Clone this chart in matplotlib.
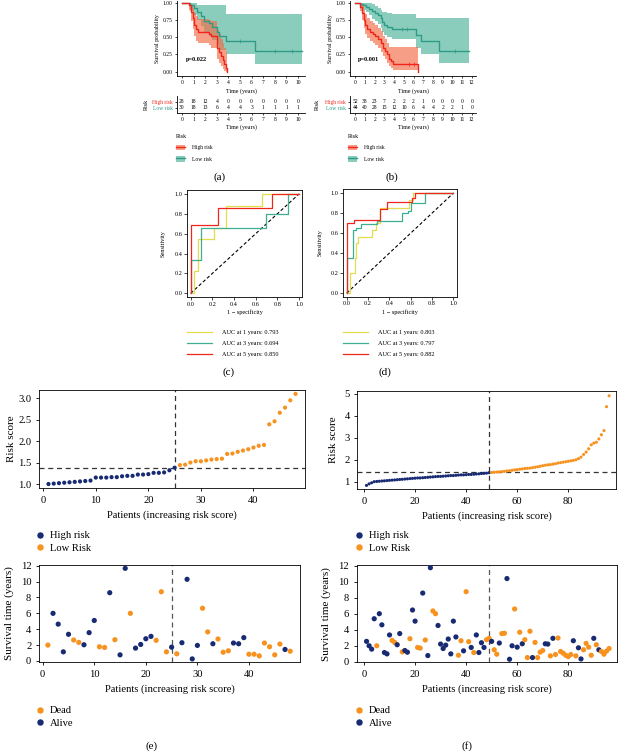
import numpy as np
import matplotlib
matplotlib.use("Agg")
import matplotlib.pyplot as plt
from matplotlib.patches import Patch
from matplotlib.lines import Line2D

# ---- KM data, panel (a)
a_hi_t = [0, 0.6, 0.8, 0.95, 1.05, 1.2, 1.35, 2.3, 2.5, 3.0, 3.2, 3.4, 3.55, 3.65, 3.75, 3.85]
a_hi_s = [1.0, 0.96, 0.86, 0.78, 0.68, 0.62, 0.58, 0.55, 0.52, 0.35, 0.29, 0.23, 0.17, 0.11, 0.06, 0.0]
a_hi_up = [1.0, 1.0, 0.97, 0.92, 0.85, 0.80, 0.77, 0.75, 0.73, 0.60, 0.55, 0.48, 0.42, 0.35, 0.28, 0.0]
a_hi_lo = [1.0, 0.89, 0.73, 0.62, 0.52, 0.45, 0.41, 0.38, 0.35, 0.18, 0.13, 0.08, 0.04, 0.01, 0.0, 0.0]
a_lo_t = [0, 0.7, 1.0, 1.3, 1.6, 1.9, 2.3, 2.6, 3.0, 3.2, 3.8, 6.3, 10.3]
a_lo_s = [1.0, 0.96, 0.92, 0.87, 0.80, 0.74, 0.70, 0.65, 0.58, 0.52, 0.45, 0.30, 0.30]
a_lo_up = [1.0, 1.0, 1.0, 0.97, 0.97, 0.97, 0.97, 0.97, 0.97, 0.97, 0.83, 0.83, 0.83]
a_lo_lo = [1.0, 0.88, 0.82, 0.75, 0.66, 0.58, 0.52, 0.46, 0.38, 0.32, 0.25, 0.11, 0.11]
a_cens_t = [5.0, 8.0, 9.5]
a_cens_s = [0.45, 0.30, 0.30]
a_n_high = [28, 18, 12, 4, 0, 0, 0, 0, 0, 0, 0]
a_n_low = [30, 18, 13, 6, 4, 4, 3, 1, 1, 1, 1]

# ---- KM data, panel (b)
b_hi_t = [0, 0.5, 0.7, 0.9, 1.0, 1.2, 1.5, 1.8, 2.0, 2.3, 2.6, 2.9, 3.1, 3.3, 3.5, 3.7, 3.9, 6.5]
b_hi_s = [1.0, 0.94, 0.85, 0.75, 0.68, 0.62, 0.58, 0.55, 0.52, 0.48, 0.42, 0.35, 0.30, 0.25, 0.19, 0.15, 0.11, 0.0]
b_hi_up = [1.0, 1.0, 0.97, 0.90, 0.83, 0.78, 0.74, 0.71, 0.68, 0.64, 0.59, 0.52, 0.47, 0.42, 0.36, 0.36, 0.36, 0.0]
b_hi_lo = [1.0, 0.88, 0.75, 0.63, 0.55, 0.49, 0.45, 0.42, 0.39, 0.35, 0.29, 0.23, 0.18, 0.13, 0.09, 0.06, 0.03, 0.0]
b_lo_t = [0, 0.5, 0.8, 1.1, 1.4, 1.7, 2.0, 2.3, 2.6, 2.8, 3.0, 3.3, 3.8, 6.3, 6.8, 8.6, 11.7]
b_lo_s = [1.0, 0.98, 0.96, 0.94, 0.91, 0.88, 0.85, 0.82, 0.78, 0.72, 0.68, 0.65, 0.62, 0.53, 0.45, 0.30, 0.30]
b_lo_up = [1.0, 1.0, 1.0, 1.0, 1.0, 0.98, 0.95, 0.93, 0.90, 0.87, 0.86, 0.85, 0.84, 0.78, 0.78, 0.78, 0.78]
b_lo_lo = [1.0, 0.94, 0.90, 0.86, 0.82, 0.77, 0.73, 0.69, 0.64, 0.57, 0.53, 0.50, 0.48, 0.35, 0.26, 0.12, 0.12]
b_cens_lo_t = [4.8, 5.3, 10.3]
b_cens_lo_s = [0.62, 0.62, 0.30]
b_cens_hi_t = [5.5, 6.0]
b_cens_hi_s = [0.11, 0.11]
b_n_high = [52, 38, 23, 7, 2, 2, 2, 1, 0, 0, 0, 0, 0]
b_n_low = [44, 40, 28, 15, 12, 10, 6, 4, 4, 2, 2, 1, 0]

# ---- ROC curves
c_y1_x = [0, 0.03, 0.03, 0.07, 0.07, 0.22, 0.22, 0.33, 0.33, 0.66, 0.66, 1.0]
c_y1_y = [0, 0, 0.22, 0.22, 0.55, 0.55, 0.66, 0.66, 0.88, 0.88, 1.0, 1.0]
c_y3_x = [0, 0, 0.10, 0.10, 0.70, 0.70, 0.90, 0.90, 1.0]
c_y3_y = [0, 0.34, 0.34, 0.66, 0.66, 0.80, 0.80, 1.0, 1.0]
c_y5_x = [0, 0, 0.25, 0.25, 0.75, 0.75, 1.0]
c_y5_y = [0, 0.69, 0.69, 0.86, 0.86, 1.0, 1.0]
c_auc = ["0.793", "0.694", "0.850"]

d_y1_x = [0, 0.03, 0.03, 0.08, 0.08, 0.09, 0.09, 0.11, 0.11, 0.24, 0.24, 0.27, 0.27, 0.31, 0.31, 0.58, 0.58, 0.62, 0.62, 1.0]
d_y1_y = [0, 0, 0.20, 0.20, 0.35, 0.35, 0.50, 0.50, 0.56, 0.56, 0.63, 0.63, 0.70, 0.70, 0.85, 0.85, 0.93, 0.93, 1.0, 1.0]
d_y3_x = [0, 0, 0.06, 0.06, 0.09, 0.09, 0.13, 0.13, 0.28, 0.28, 0.52, 0.52, 0.57, 0.57, 0.60, 0.60, 0.73, 0.73, 1.0]
d_y3_y = [0, 0.35, 0.35, 0.63, 0.63, 0.65, 0.65, 0.69, 0.69, 0.72, 0.72, 0.80, 0.80, 0.82, 0.82, 0.90, 0.90, 1.0, 1.0]
d_y5_x = [0, 0, 0.07, 0.07, 0.31, 0.31, 0.38, 0.38, 0.61, 0.61, 0.64, 0.64, 1.0]
d_y5_y = [0, 0.70, 0.70, 0.73, 0.73, 0.84, 0.84, 0.91, 0.91, 0.95, 0.95, 1.0, 1.0]
d_auc = ["0.803", "0.797", "0.882"]

# ---- risk score / survival, panel (e)
e_risk = [1.00, 1.01, 1.02, 1.03, 1.04, 1.05, 1.06, 1.07, 1.08, 1.15, 1.15, 1.15, 1.16, 1.16, 1.18,
          1.19, 1.19, 1.22, 1.22, 1.23, 1.26, 1.26, 1.27, 1.32, 1.38,
          1.44, 1.45, 1.50, 1.53, 1.53, 1.55, 1.57, 1.58, 1.59, 1.70, 1.71, 1.75, 1.78, 1.81, 1.85,
          1.89, 1.91, 2.39, 2.46, 2.66, 2.78, 2.95, 3.10]
e_n_high = 25
e_cut = 1.37
e_time = [2.0, 6.0, 4.64, 1.15, 3.36, 2.64, 2.34, 2.04, 3.57, 5.1, 1.79, 1.70, 8.6, 2.68, 0.77,
          11.67, 6.0, 1.62, 2.08, 2.8, 3.1, 2.6, 8.72, 1.15, 1.74, 0.9, 2.3, 10.29, 0.26, 1.96,
          6.64, 3.66, 2.17, 2.77, 1.1, 1.28, 2.26, 2.17, 2.94, 0.85, 0.85, 0.64, 2.26, 1.79, 0.77,
          2.13, 1.45, 1.23]
e_dead = [1, 0, 0, 0, 0, 1, 1, 0, 0, 0, 1, 1, 0, 1, 0, 0, 1, 0, 0, 0, 0, 1, 1, 1, 0, 1, 0, 0, 0, 0,
          1, 1, 0, 1, 1, 1, 0, 0, 0, 1, 1, 1, 1, 1, 1, 1, 0, 1]

# ---- risk score / survival, panel (f)
f_risk = [0.83, 0.90, 0.95, 1.00, 1.01, 1.02, 1.03, 1.04, 1.05, 1.06, 1.07, 1.08, 1.09, 1.10, 1.11,
          1.12, 1.13, 1.14, 1.15, 1.16, 1.17, 1.17, 1.18, 1.19, 1.20, 1.21, 1.22, 1.23, 1.24, 1.24,
          1.25, 1.26, 1.27, 1.28, 1.28, 1.29, 1.30, 1.31, 1.31, 1.32, 1.33, 1.33, 1.34, 1.35, 1.36,
          1.37, 1.38, 1.39, 1.41,
          1.42, 1.43, 1.44, 1.45, 1.46, 1.47, 1.49, 1.50, 1.52, 1.54, 1.55, 1.57, 1.58, 1.60, 1.61,
          1.62, 1.64, 1.66, 1.68, 1.70, 1.73, 1.75, 1.77, 1.78, 1.80, 1.82, 1.85, 1.87, 1.89, 1.91,
          1.93, 1.95, 1.97, 2.00, 2.05, 2.12, 2.24, 2.35, 2.50, 2.68, 2.76, 2.80, 2.95, 3.14, 3.33,
          4.42, 4.92]
f_n_high = 49
f_cut = 1.42
f_time = [2.57, 2.02, 1.6, 5.39, 2.02, 6.02, 4.63, 1.18, 1.01, 3.37, 2.69, 2.44, 2.15, 3.54, 1.26,
          1.43, 1.22, 2.9, 6.48, 5.09, 1.81, 1.73, 8.59, 2.74, 0.8, 11.75, 6.36, 6.02, 4.55, 2.23,
          1.68, 2.1, 2.86, 1.01, 5.09, 3.12, 0.84, 2.65, 1.39, 8.76, 2.53, 1.81, 1.18, 3.37, 1.18,
          2.4, 1.81, 2.78, 2.95, 2.57, 1.52, 0.97, 2.36, 3.54, 3.58, 10.4, 0.34, 2.02, 6.61, 1.85,
          3.71, 2.27, 2.78, 0.55, 3.83, 0.55, 2.44, 0.55, 1.22, 1.43, 2.27, 2.23, 0.76, 2.95, 0.93,
          2.99, 1.31, 1.1, 0.84, 0.67, 0.93, 2.65, 0.76, 1.77, 0.38, 1.52, 2.32, 1.85, 0.84, 2.95,
          2.15, 1.52, 1.31, 0.97, 1.35, 1.68]
f_dead = [0, 0, 0, 0, 1, 0, 0, 0, 0, 0, 1, 1, 0, 0, 1, 0, 0, 1, 0, 0, 1, 1, 0, 1, 0, 0, 1, 1, 0, 0,
          0, 0, 0, 0, 0, 0, 1, 1, 0, 1, 1, 0, 1, 0, 0, 0, 0, 1, 1, 0, 1, 1, 0, 1, 1, 0, 0, 0, 1, 0,
          1, 0, 1, 1, 1, 0, 1, 1, 1, 1, 0, 0, 1, 0, 1, 1, 1, 1, 1, 1, 1, 0, 1, 0, 0, 1, 1, 1, 1, 0,
          1, 0, 1, 1, 1, 1]

RED = '#F0261C'
RED_FILL = '#F26B45'
GREEN = '#2E9C85'
GREEN_FILL = '#4DB39A'
YEL = '#E3DC4E'
ROC_G = '#3FAF92'
NAVY = '#172A72'
ORANGE = '#F7921E'

plt.rcParams['font.family'] = ['Liberation Serif', 'DejaVu Serif']
plt.rcParams['axes.linewidth'] = 0.6

W, H = 618, 751
fig = plt.figure(figsize=(W / 100, H / 100), dpi=100)


def rect(l, t, r, b):
    return [l / W, 1 - b / H, (r - l) / W, (b - t) / H]


def km_panel(box, tbox, xmax_tick, xlim, hi, lo, cens, n_high, n_low, pval, leg_xy):
    ax = fig.add_axes(box)
    for (t, s, up, dn), fc in [(lo, GREEN_FILL), (hi, RED_FILL)]:
        ax.fill_between(t, dn, up, step='post', color=fc, alpha=0.65, lw=0)
    for (t, s, up, dn), lc in [(lo, GREEN), (hi, RED)]:
        ax.step(t, s, where='post', color=lc, lw=1.0)
    for ct, cs, cc in cens:
        ax.plot(ct, cs, '+', color=cc, ms=2.5, mew=0.5)
    ax.set_xlim(*xlim)
    ax.set_ylim(-0.062, 1.03)
    ax.set_xticks(range(0, xmax_tick + 1))
    ax.set_yticks([0, 0.25, 0.5, 0.75, 1.0])
    ax.set_yticklabels(['0.00', '0.25', '0.50', '0.75', '1.00'])
    ax.spines[['top', 'right']].set_visible(False)
    ax.tick_params(labelsize=4, length=1.5, width=0.5, pad=1.5)
    ax.set_xlabel('Time (years)', fontsize=4.3, labelpad=2)
    ax.set_ylabel('Survival probability', fontsize=4.3, labelpad=2)
    ax.text(0.3, 0.18, pval, fontsize=4.5, fontweight='bold', va='center')

    tx = fig.add_axes(tbox)
    for i, v in enumerate(n_high):
        tx.text(i, 0.66, str(v), ha='center', va='center', fontsize=4)
    for i, v in enumerate(n_low):
        tx.text(i, 0.3, str(v), ha='center', va='center', fontsize=4)
    tx.set_xlim(*xlim)
    tx.set_ylim(0, 1)
    tx.set_xticks(range(0, xmax_tick + 1))
    tx.set_yticks([0.66, 0.3])
    tx.set_yticklabels(['High risk', 'Low risk'])
    for lab, c in zip(tx.get_yticklabels(), [RED, GREEN]):
        lab.set_color(c)
    tx.spines[['top', 'right']].set_visible(False)
    tx.tick_params(labelsize=4, length=1.5, width=0.5, pad=1.5)
    tx.set_xlabel('Time (years)', fontsize=4.3, labelpad=2)
    tx.set_ylabel('Risk', fontsize=4.3)

    handles = [(Patch(color=RED_FILL, alpha=0.65, lw=0), Line2D([], [], color=RED, lw=1.0)),
               (Patch(color=GREEN_FILL, alpha=0.65, lw=0), Line2D([], [], color=GREEN, lw=1.0))]
    fig.legend(handles, ['High risk', 'Low risk'], title='Risk', loc='upper left',
               bbox_to_anchor=leg_xy, frameon=False, fontsize=4, title_fontsize=4.3,
               alignment='left', handlelength=1.6, handleheight=1.2, labelspacing=1.0,
               handletextpad=1.2, borderpad=0, borderaxespad=0)
    return tx


tx_a = km_panel(rect(177, 0.6, 305, 76), rect(177, 96, 305, 112.7), 10, (-0.43, 10.6),
                (a_hi_t, a_hi_s, a_hi_up, a_hi_lo), (a_lo_t, a_lo_s, a_lo_up, a_lo_lo),
                [(a_cens_t, a_cens_s, GREEN)], a_n_high, a_n_low, 'p=0.022', (176 / W, 1 - 134 / H))
tx_a.yaxis.set_label_coords(-0.22, 0.5)
tx_b = km_panel(rect(350, 0.6, 476, 76), rect(350, 96, 476, 112.7), 12, (-0.55, 12.44),
                (b_hi_t, b_hi_s, b_hi_up, b_hi_lo), (b_lo_t, b_lo_s, b_lo_up, b_lo_lo),
                [(b_cens_lo_t, b_cens_lo_s, GREEN), (b_cens_hi_t, b_cens_hi_s, RED)],
                b_n_high, b_n_low, 'p=0.001', (348 / W, 1 - 134 / H))
tx_b.yaxis.set_label_coords(-0.24, 0.5)


def roc_panel(box, xlim, curves, aucs, leg_xy, ylab_x):
    ax = fig.add_axes(box)
    ax.plot([0, 1], [0, 1], ls='--', color='black', lw=0.8, dashes=(3, 2))
    for (x, y), c in zip(curves, [YEL, ROC_G, RED]):
        ax.plot(x, y, color=c, lw=0.9)
    ax.set_xlim(*xlim)
    ax.set_ylim(-0.034, 1.04)
    ax.set_xticks([0, 0.2, 0.4, 0.6, 0.8, 1.0])
    ax.set_yticks([0, 0.2, 0.4, 0.6, 0.8, 1.0])
    ax.tick_params(labelsize=4.5, length=2, width=0.5, pad=1.5)
    ax.set_xlabel('1 \u2212 specificity', fontsize=4.5, labelpad=2)
    ax.set_ylabel('Sensitivity', fontsize=4.5)
    ax.yaxis.set_label_coords(ylab_x, 0.5)
    handles = [Line2D([], [], color=c, lw=0.9) for c in [YEL, ROC_G, RED]]
    labels = ['AUC at %d years: %s' % (yr, v) for yr, v in zip([1, 3, 5], aucs)]
    fig.legend(handles, labels, loc='upper left', bbox_to_anchor=leg_xy, frameon=False,
               fontsize=4.5, handlelength=4.0, handletextpad=1.6, labelspacing=0.9,
               borderpad=0, borderaxespad=0)


roc_panel(rect(187.3, 190, 301.7, 296.7), (-0.031, 1.025),
          [(c_y1_x, c_y1_y), (c_y3_x, c_y3_y), (c_y5_x, c_y5_y)], c_auc,
          (186.7 / W, 1 - 329.5 / H), -0.19)
roc_panel(rect(343.3, 189, 456.7, 296.5), (-0.032, 1.03),
          [(d_y1_x, d_y1_y), (d_y3_x, d_y3_y), (d_y5_x, d_y5_y)], d_auc,
          (342.7 / W, 1 - 329.5 / H), -0.18)

FS = 7.6


def risk_panels(top_box, bot_box, top_xlim, top_ylim, bot_xlim, bot_ylim, risk, n_high, cut,
                time, dead, top_xticks, top_yticks, s_top, s_bot, leg1_xy, leg2_xy, ylx):
    pts = np.arange(1, len(risk) + 1)
    cols = [NAVY if i < n_high else ORANGE for i in range(len(risk))]
    ax = fig.add_axes(top_box)
    ax.scatter(pts, risk, c=cols, s=s_top, lw=0, zorder=3)
    ax.axhline(cut, ls='--', color='#333333', lw=0.9, dashes=(4, 3))
    ax.axvline(n_high, ls='--', color='#333333', lw=0.9, dashes=(4, 3))
    ax.set_xlim(*top_xlim)
    ax.set_ylim(*top_ylim)
    ax.set_xticks(top_xticks)
    ax.set_yticks(top_yticks)
    ax.tick_params(labelsize=FS, length=2.5, width=0.6, pad=3)
    ax.set_xlabel('Patients (increasing risk score)', fontsize=FS, labelpad=4)
    ax.set_ylabel('Risk score', fontsize=FS + 0.4)
    ax.yaxis.set_label_coords(ylx[0], 0.5)
    h1 = [Line2D([], [], ls='', marker='o', color=NAVY, ms=3.6),
          Line2D([], [], ls='', marker='o', color=ORANGE, ms=3.6)]
    fig.legend(h1, ['High risk', 'Low Risk'], loc='upper left', bbox_to_anchor=leg1_xy,
               frameon=False, fontsize=FS, handlelength=0.6, handletextpad=0.6,
               labelspacing=0.3, borderpad=0, borderaxespad=0)

    bx = fig.add_axes(bot_box)
    scol = [ORANGE if d else NAVY for d in dead]
    bx.scatter(pts, time, c=scol, s=s_bot, lw=0, zorder=3)
    bx.axvline(n_high, ls='--', color='#555555', lw=0.9, dashes=(4, 3))
    bx.set_xlim(*bot_xlim)
    bx.set_ylim(*bot_ylim)
    bx.set_xticks(top_xticks)
    bx.set_yticks([0, 2, 4, 6, 8, 10, 12])
    bx.tick_params(labelsize=FS, length=2.5, width=0.6, pad=3)
    bx.set_xlabel('Patients (increasing risk score)', fontsize=FS, labelpad=4)
    bx.set_ylabel('Survival time (years)', fontsize=FS + 0.4)
    bx.yaxis.set_label_coords(ylx[1], 0.5)
    h2 = [Line2D([], [], ls='', marker='o', color=ORANGE, ms=3.6),
          Line2D([], [], ls='', marker='o', color=NAVY, ms=3.6)]
    fig.legend(h2, ['Dead', 'Alive'], loc='upper left', bbox_to_anchor=leg2_xy,
               frameon=False, fontsize=FS, handlelength=0.6, handletextpad=0.6,
               labelspacing=0.3, borderpad=0, borderaxespad=0)


risk_panels(rect(39, 390, 305, 488.3), rect(39, 565, 300, 662),
            (-0.8, 49.8), (0.9, 3.19), (-0.72, 49.9), (-0.13, 12.09),
            e_risk, e_n_high, e_cut, e_time, e_dead, [0, 10, 20, 30, 40],
            [1.0, 1.5, 2.0, 2.5, 3.0], 9, 14,
            (37 / W, 1 - 531 / H), (37 / W, 1 - 706 / H), (-0.085, -0.095))
risk_panels(rect(357.3, 390.7, 616, 489.3), rect(356.7, 565, 617, 662.3),
            (-2.6, 98.7), (0.653, 5.15), (-2.86, 99.1), (-0.04, 12.09),
            f_risk, f_n_high, f_cut, f_time, f_dead, [0, 20, 40, 60, 80],
            [1, 2, 3, 4, 5], 5, 14,
            (356 / W, 1 - 531 / H), (356 / W, 1 - 706 / H), (-0.075, -0.1))

for lab, x, y in [('(a)', 220, 176.7), ('(b)', 391.7, 176.7), ('(c)', 229, 372.3),
                  ('(d)', 385, 372.3), ('(e)', 151.7, 745.7), ('(f)', 466.7, 745.7)]:
    fig.text(x / W, 1 - y / H, lab, ha='center', va='center', fontsize=8)

fig.savefig('out.png', dpi=100)
